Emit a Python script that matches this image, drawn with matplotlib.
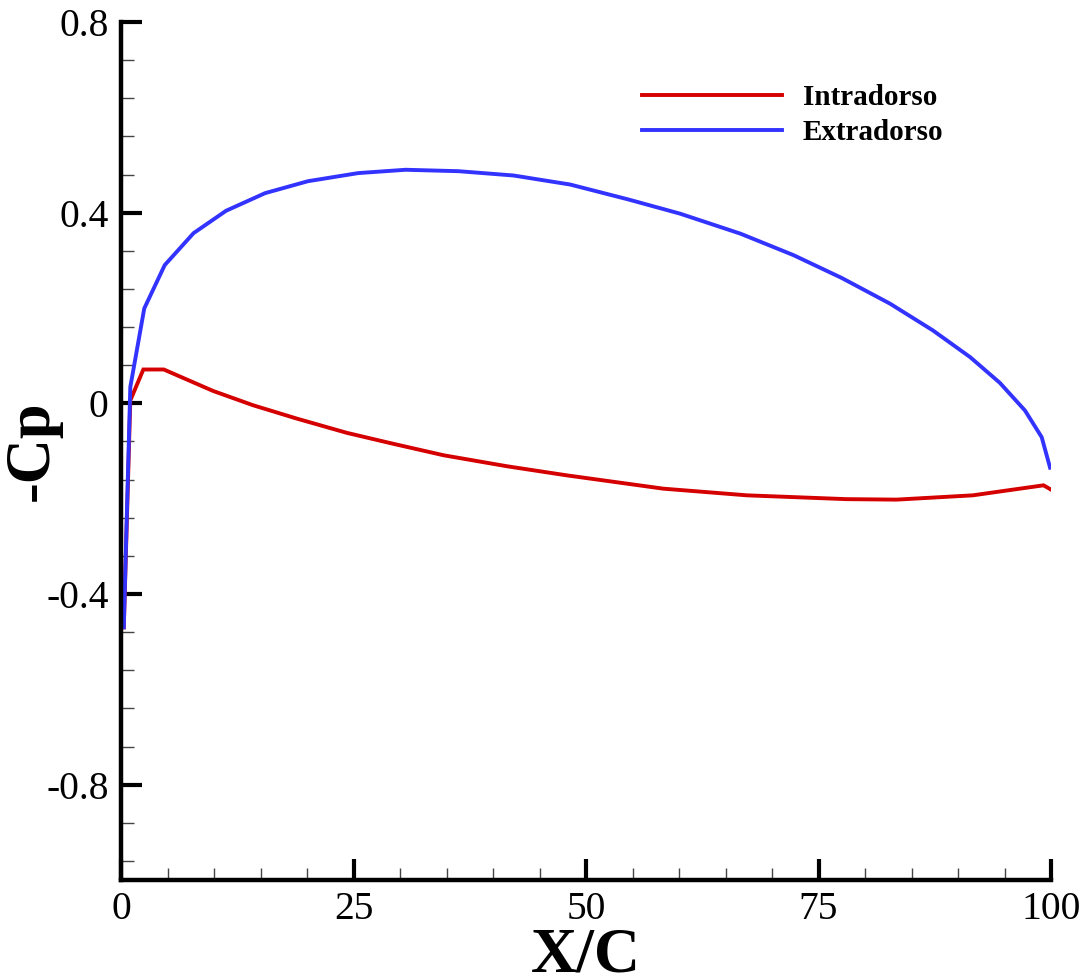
import matplotlib
matplotlib.use("Agg")
import matplotlib.pyplot as plt
from matplotlib.ticker import MultipleLocator, FixedLocator

# ---- data ----
x_extra = [0.3, 1.0, 2.5, 4.7, 7.8, 11.3, 15.5, 20.1, 25.5, 30.6, 36.3, 42.2, 48.3,
           54.5, 60.1, 66.6, 72.3, 77.5, 82.7, 87.3, 91.3, 94.5, 97.2, 99.0, 99.9]
cp_extra = [-0.47, 0.034, 0.199, 0.290, 0.357, 0.404, 0.441, 0.466, 0.483, 0.490,
            0.487, 0.478, 0.459, 0.428, 0.398, 0.356, 0.311, 0.263, 0.209, 0.153,
            0.097, 0.043, -0.015, -0.071, -0.135]

x_intra = [0.3, 1.0, 2.4, 4.6, 9.9, 14.2, 18.9, 24.3, 29.3, 34.7, 41.5, 47.9,
           58.3, 67.3, 78.0, 83.4, 91.6, 95.2, 99.2, 100.0]
cp_intra = [-0.47, 0.006, 0.071, 0.071, 0.026, -0.004, -0.032, -0.062, -0.085,
            -0.109, -0.132, -0.151, -0.179, -0.193, -0.201, -0.202, -0.193,
            -0.183, -0.172, -0.181]

labels = ["Intradorso", "Extradorso"]
x_ticks = [0, 25, 50, 75, 100]
y_ticks = [-0.8, -0.4, 0, 0.4, 0.8]
y_tick_labels = ["-0.8", "-0.4", "0", "0.4", "0.8"]

# ---- figure ----
plt.rcParams['font.family'] = ['Liberation Serif', 'DejaVu Serif']
W, H = 1087, 976
fig = plt.figure(figsize=(W / 100, H / 100), dpi=100)
ax = fig.add_axes([121 / W, 1 - 880 / H, (1051 - 121) / W, (880 - 22) / H])

red = "#d50000"
blue = "#3333ff"
ax.plot(x_intra, cp_intra, color=red, lw=2.8, label=labels[0], solid_joinstyle='miter')
ax.plot(x_extra, cp_extra, color=blue, lw=2.8, label=labels[1], solid_joinstyle='miter')

ax.set_xlim(0, 100)
ax.set_ylim(-1.0, 0.8)

for s in ['top', 'right']:
    ax.spines[s].set_visible(False)
for s in ['left', 'bottom']:
    ax.spines[s].set_linewidth(3.2)
    ax.spines[s].set_capstyle('projecting')

ax.xaxis.set_major_locator(FixedLocator(x_ticks))
ax.xaxis.set_minor_locator(MultipleLocator(5))
ax.yaxis.set_major_locator(FixedLocator(y_ticks))
ax.set_yticklabels(y_tick_labels)
ax.yaxis.set_minor_locator(MultipleLocator(0.08))

ax.tick_params(which='major', direction='in', length=15, width=3.0, labelsize=28.5, pad=9, color='black')
ax.tick_params(which='minor', direction='in', length=9, width=1.0, color='#444444')
ax.tick_params(axis='x', which='major', pad=8)

ax.set_xlabel("X/C", fontsize=46, fontweight='bold')
ax.xaxis.set_label_coords(0.5, -0.055)
ax.set_ylabel("-Cp", fontsize=45, fontweight='bold')
ax.yaxis.set_label_coords(-0.064, 0.5)

leg = ax.legend(loc='upper left', bbox_to_anchor=(642 / W, 1 - 84 / H),
                bbox_transform=fig.transFigure, frameon=False,
                prop={'family': 'Liberation Serif', 'weight': 'bold', 'size': 21},
                handlelength=4.8, handletextpad=0.72, labelspacing=0.28,
                borderpad=0, borderaxespad=0)

fig.savefig("out.png", dpi=100)
